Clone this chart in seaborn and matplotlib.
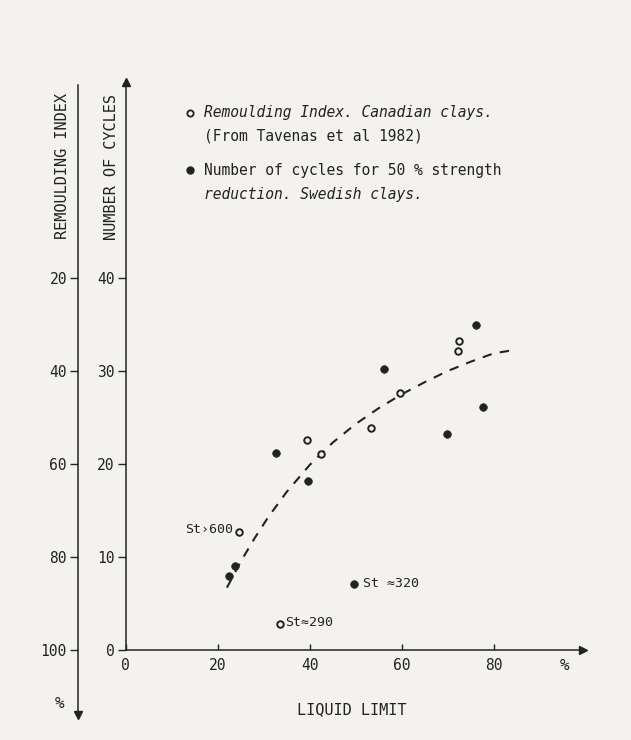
import numpy as np
import pandas as pd
import seaborn as sns
import matplotlib
matplotlib.use("Agg")
import matplotlib.pyplot as plt

# ---------------- data ----------------
# Swedish clays: number of cycles for 50 % strength reduction (filled)
swe_ll = [22.5, 23.8, 32.7, 39.6, 49.6, 56.1, 69.8, 76.1, 77.6]
swe_cycles = [8.0, 9.0, 21.2, 18.2, 7.1, 30.2, 23.2, 35.0, 26.1]

# Canadian clays: remoulding index (open)
can_ll = [24.6, 33.5, 39.5, 42.5, 53.3, 59.6, 72.2, 72.5]
can_ri = [74.6, 94.4, 54.8, 57.8, 52.2, 44.8, 35.8, 33.6]

# dashed trend curve (number of cycles scale)
curve_ll = [22, 25, 28, 31, 35, 40, 45, 50, 55, 60, 65, 70, 75, 80, 85]
curve_cycles = [6.7, 9.5, 12.0, 14.3, 17.0, 19.9, 22.3, 24.3, 26.0, 27.5,
                28.8, 30.0, 31.0, 31.9, 32.3]

x_ticks = [0, 20, 40, 60, 80]
cycle_ticks = [0, 10, 20, 30, 40]
ri_ticks = [20, 40, 60, 80, 100]

# annotations: (index, text)
notes_open = [(0, "St\u203a600"), (1, "St\u2248290")]
notes_filled = [(4, "St \u2248320")]

# ---------------- style ----------------
W, H = 631, 740
BG = "#f3f2ee"
INK = "#222222"
MONO = ["DejaVu Sans Mono"]
sns.set_theme(style="white")
plt.rcParams["font.family"] = ["DejaVu Sans"]
plt.rcParams["text.color"] = INK
plt.rcParams["axes.labelcolor"] = INK
plt.rcParams["xtick.color"] = INK
plt.rcParams["ytick.color"] = INK

fig = plt.figure(figsize=(W / 100, H / 100), dpi=100, facecolor=BG)


def fx(px):
    return px / W


def fy(py):
    return 1 - py / H


# pixel geometry of the plotting frame
x0_px, xr_px = 125.7, 583.0
ppx = 4.6            # pixels per LL unit
ppy = 9.3            # pixels per cycle
y0_px = 650.0        # cycles = 0
top_px, bot_px = 82.0, 720.0

xmax = (xr_px - x0_px) / ppx
ymin = (y0_px - bot_px) / ppy
ymax = (y0_px - top_px) / ppy

ax = fig.add_axes([fx(x0_px), fy(bot_px), (xr_px - x0_px) / W,
                   (bot_px - top_px) / H])
ax.set_facecolor(BG)
ax.set_xlim(0, xmax)
ax.set_ylim(ymin, ymax)

for s in ["top", "right"]:
    ax.spines[s].set_visible(False)
ax.spines["bottom"].set_position(("data", 0))
ax.spines["bottom"].set_bounds(0, xmax)
ax.spines["left"].set_bounds(0, ymax)
for s in ["bottom", "left"]:
    ax.spines[s].set_color(INK)
    ax.spines[s].set_linewidth(1.1)

ax.set_xticks(x_ticks)
ax.set_xticklabels([str(v) for v in x_ticks], fontsize=10.5, family=MONO)
ax.tick_params(axis="x", direction="in", length=4, width=1, pad=6,
               bottom=True)
ax.set_yticks(cycle_ticks)
ax.set_yticklabels([str(v) for v in cycle_ticks], fontsize=10.5, family=MONO)
ax.tick_params(axis="y", direction="out", length=6, width=1, pad=2, left=True)

# arrows on axes
ax.plot([1], [0], marker=">", ms=6, color=INK, transform=ax.get_yaxis_transform(),
        clip_on=False)
ax.plot([0], [1], marker="^", ms=6, color=INK, transform=ax.get_xaxis_transform(),
        clip_on=False)

# trend curve
curve = pd.DataFrame({"ll": curve_ll, "c": curve_cycles})
sns.lineplot(data=curve, x="ll", y="c", ax=ax, color=INK, lw=1.5,
             sort=False)
ax.lines[-1].set_linestyle((0, (4.5, 4.0)))

# filled points
swe = pd.DataFrame({"ll": swe_ll, "c": swe_cycles})
sns.scatterplot(data=swe, x="ll", y="c", ax=ax, color=INK, s=30,
                edgecolor=INK, linewidth=0.5, zorder=5)

ax.set_xlabel("")
ax.set_ylabel("")

# remoulding-index axis (twin, mapped RI = 100 - 2*cycles)
ax_ri = ax.twinx()
ax_ri.set_ylim(100 - 2 * ymin, 100 - 2 * ymax)
for s in ["top", "right", "bottom"]:
    ax_ri.spines[s].set_visible(False)
ax_ri.spines["left"].set_visible(True)
ax_ri.spines["left"].set_position(("outward", (x0_px - 78) * 0.72))
ri_top = 100 - 2 * ((y0_px - 85) / ppy)
ri_bot = 100 - 2 * ((y0_px - 715) / ppy)
ax_ri.spines["left"].set_bounds(ri_top, ri_bot)
ax_ri.spines["left"].set_color(INK)
ax_ri.spines["left"].set_linewidth(1.1)
ax_ri.yaxis.tick_left()
ax_ri.set_yticks(ri_ticks)
ax_ri.set_yticklabels([str(v) for v in ri_ticks], fontsize=10.5, family=MONO)
ax_ri.tick_params(axis="y", direction="out", length=6, width=1, pad=2,
                  left=True, right=False)
ax_ri.plot([0], [ri_bot], marker="v", ms=6, color=INK,
           transform=ax_ri.spines["left"].get_spine_transform(), clip_on=False)

can = pd.DataFrame({"ll": can_ll, "ri": can_ri})
sns.scatterplot(data=can, x="ll", y="ri", ax=ax_ri, facecolor=BG,
                edgecolor=INK, s=22, linewidth=1.4, zorder=6)
ax_ri.set_ylabel("")
ax_ri.set_xlabel("")

# annotations
for i, txt in notes_open:
    if i == 0:
        ax_ri.annotate(txt, (can_ll[i], can_ri[i]), xytext=(-6, 2),
                       textcoords="offset pixels", ha="right", va="center",
                       fontsize=9.5, family=MONO)
    else:
        ax_ri.annotate(txt, (can_ll[i], can_ri[i]), xytext=(5, 1),
                       textcoords="offset pixels", ha="left", va="center",
                       fontsize=9.5, family=MONO)
for i, txt in notes_filled:
    ax.annotate(txt, (swe_ll[i], swe_cycles[i]), xytext=(9, 0),
                textcoords="offset pixels", ha="left", va="center",
                fontsize=9.5, family=MONO)

# axis titles
fig.text(fx(112), fy(167), "NUMBER OF CYCLES", rotation=90, ha="center",
         va="center", fontsize=11, family=MONO)
fig.text(fx(63), fy(166), "REMOULDING INDEX", rotation=90, ha="center",
         va="center", fontsize=11, family=MONO)
fig.text(fx(352), fy(710), "LIQUID LIMIT", ha="center", va="center",
         fontsize=11, family=MONO)
fig.text(fx(565), fy(665), "%", ha="center", va="center", fontsize=11.5,
         family=MONO)
fig.text(fx(60), fy(703), "%", ha="center", va="center", fontsize=11.5,
         family=MONO)

# legend block
leg_lines = [
    (113, "Remoulding Index. Canadian clays.", "italic"),
    (136, "(From Tavenas et al 1982)", "normal"),
    (170, "Number of cycles for 50 % strength", "normal"),
    (194, "reduction. Swedish clays.", "italic"),
]
for ypx, txt, st in leg_lines:
    fig.text(fx(204), fy(ypx), txt, ha="left", va="center", fontsize=10.5,
             style=st, family=MONO)
fig.add_artist(plt.Line2D([fx(190)], [fy(113)], marker="o", ms=4.5,
                          mfc=BG, mec=INK, mew=1.3, ls="none"))
fig.add_artist(plt.Line2D([fx(190)], [fy(170)], marker="o", ms=5,
                          mfc=INK, mec=INK, ls="none"))

fig.savefig("out.png", dpi=100, facecolor=BG)
